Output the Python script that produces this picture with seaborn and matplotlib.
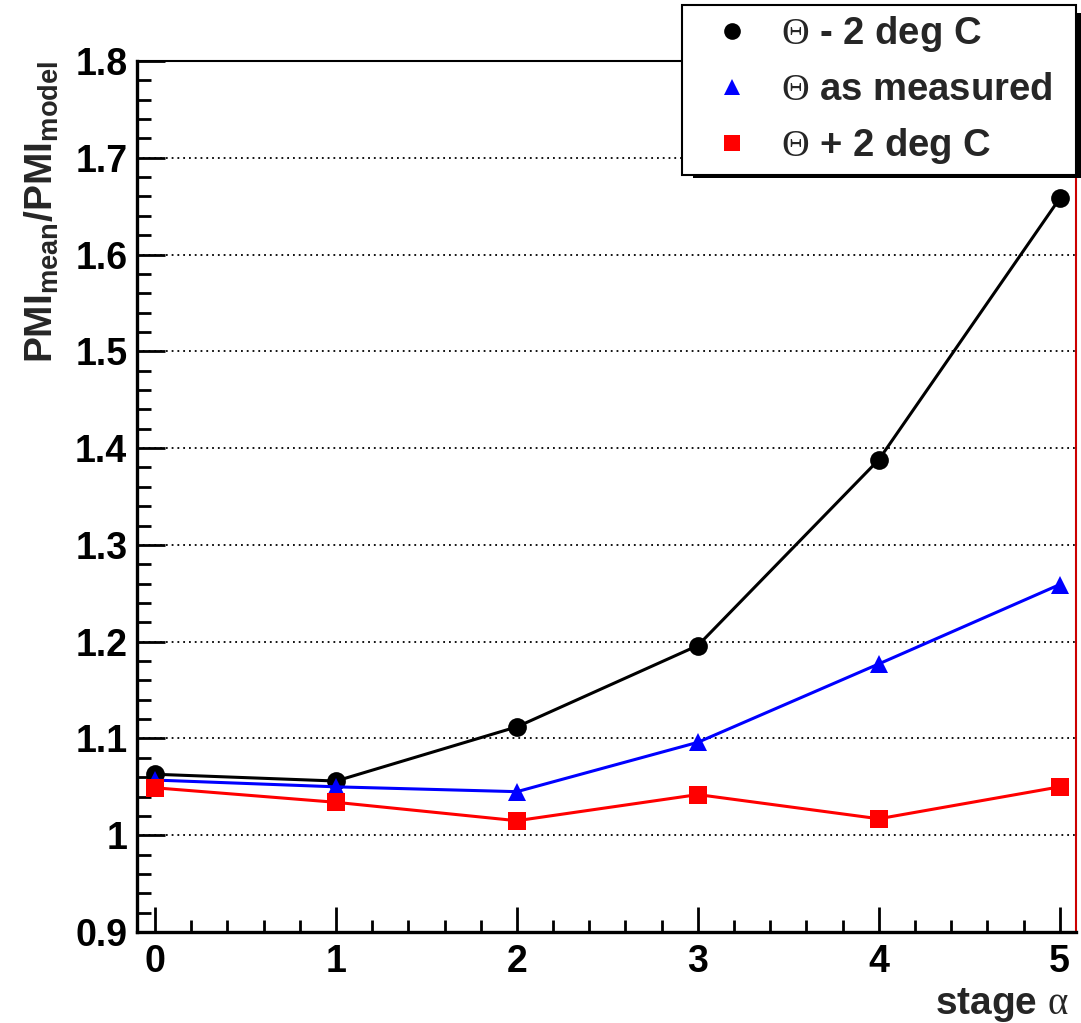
import matplotlib
matplotlib.use("Agg")
import matplotlib.pyplot as plt
from matplotlib.patches import Rectangle
from matplotlib.ticker import MultipleLocator
import seaborn as sns
import pandas as pd

# stage index on the x axis
stages = [0, 1, 2, 3, 4, 5]

# ratio of mean PMI to model PMI for three temperature assumptions
pmi_minus2 = [1.063, 1.056, 1.112, 1.196, 1.388, 1.658]
pmi_measured = [1.057, 1.050, 1.045, 1.096, 1.177, 1.259]
pmi_plus2 = [1.049, 1.034, 1.015, 1.042, 1.017, 1.050]

series_labels = [r"$\Theta$ - 2 deg C", r"$\Theta$ as measured", r"$\Theta$ + 2 deg C"]
series_colors = ["#000000", "#0000ff", "#ff0000"]
series_markers = ["o", "^", "s"]

y_ticks = [0.9, 1.0, 1.1, 1.2, 1.3, 1.4, 1.5, 1.6, 1.7, 1.8]
y_ticklabels = ["0.9", "1", "1.1", "1.2", "1.3", "1.4", "1.5", "1.6", "1.7", "1.8"]

sns.set_theme(style="white")
plt.rcParams["font.family"] = ["Liberation Sans", "DejaVu Sans"]
plt.rcParams["mathtext.fontset"] = "custom"
plt.rcParams["mathtext.rm"] = "Liberation Serif:weight=normal"
plt.rcParams["mathtext.it"] = "Liberation Serif:weight=normal"
plt.rcParams["mathtext.bf"] = "Liberation Sans:weight=bold"
plt.rcParams["mathtext.sf"] = "Liberation Sans:weight=bold"

df = pd.DataFrame({
    "stage": stages * 3,
    "ratio": pmi_minus2 + pmi_measured + pmi_plus2,
    "series": [series_labels[0]] * 6 + [series_labels[1]] * 6 + [series_labels[2]] * 6,
})

fig = plt.figure(figsize=(10.81, 10.23), dpi=100)
ax = fig.add_axes([137 / 1081, 1 - 932 / 1023, (1076 - 137) / 1081, (932 - 61) / 1023])

sns.lineplot(
    data=df, x="stage", y="ratio", hue="series", style="series",
    palette=dict(zip(series_labels, series_colors)),
    markers=dict(zip(series_labels, series_markers)),
    dashes=False, markersize=13.5, linewidth=2.2, markeredgewidth=0,
    ax=ax, legend=False, zorder=3,
)

ax.set_xlim(-0.1, 5.09)
ax.set_ylim(0.9, 1.8)
ax.xaxis.set_major_locator(MultipleLocator(1))
ax.xaxis.set_minor_locator(MultipleLocator(0.2))
ax.yaxis.set_minor_locator(MultipleLocator(0.02))
ax.set_yticks(y_ticks)
ax.set_yticklabels(y_ticklabels)

ax.tick_params(axis="both", which="both", direction="in", colors="black",
               labelsize=27, width=2, bottom=True, left=True, top=False, right=False)
ax.tick_params(axis="y", which="major", length=20, pad=7)
ax.tick_params(axis="y", which="minor", length=10)
ax.tick_params(axis="x", which="major", length=18, pad=9)
ax.tick_params(axis="x", which="minor", length=9)
for lbl in ax.get_xticklabels() + ax.get_yticklabels():
    lbl.set_fontweight("bold")

ax.grid(axis="y", which="major", color="black", linestyle=(0, (1, 2.2)), linewidth=1.3)
ax.grid(axis="x", visible=False)

for side in ["left", "bottom"]:
    ax.spines[side].set_color("black")
    ax.spines[side].set_linewidth(2.4)
ax.spines["top"].set_color("black")
ax.spines["top"].set_linewidth(1.5)
ax.spines["right"].set_color("#cc0000")
ax.spines["right"].set_linewidth(1.5)

ax.set_xlabel(r"stage $\mathrm{\alpha}$", fontsize=28, fontweight="bold", loc="right", labelpad=4)
ax.xaxis.label.set_x(0.992)
ax.set_ylabel(r"$\mathsf{PMI_{mean}/PMI_{model}}$", fontsize=28, loc="top", labelpad=10)

# legend box with a solid drop shadow
lx0, ly0, lx1, ly1 = 682, 5, 1076, 170
fig.patches.append(Rectangle(((lx0 + 11) / 1081, 1 - (ly1 + 8) / 1023),
                             (lx1 - lx0) / 1081, (ly1 - ly0) / 1023,
                             transform=fig.transFigure, facecolor="black",
                             edgecolor="none", zorder=5))
handles = [plt.Line2D([], [], linestyle="none", marker=m, color=c, markersize=12,
                      markeredgewidth=0)
           for m, c in zip(series_markers, series_colors)]
leg = fig.legend(handles, series_labels,
                 bbox_to_anchor=(lx0 / 1081, 1 - ly1 / 1023, (lx1 - lx0) / 1081, (ly1 - ly0) / 1023),
                 loc="upper left", mode="expand", borderaxespad=0, frameon=True,
                 fancybox=False, edgecolor="black", framealpha=1, facecolor="white",
                 prop={"size": 27.5, "weight": "bold"}, labelspacing=0.47,
                 handlelength=2.15, handletextpad=0.2, borderpad=0.24)
leg.get_frame().set_linewidth(1.5)
leg.set_zorder(6)

fig.savefig("out.png", dpi=100)
